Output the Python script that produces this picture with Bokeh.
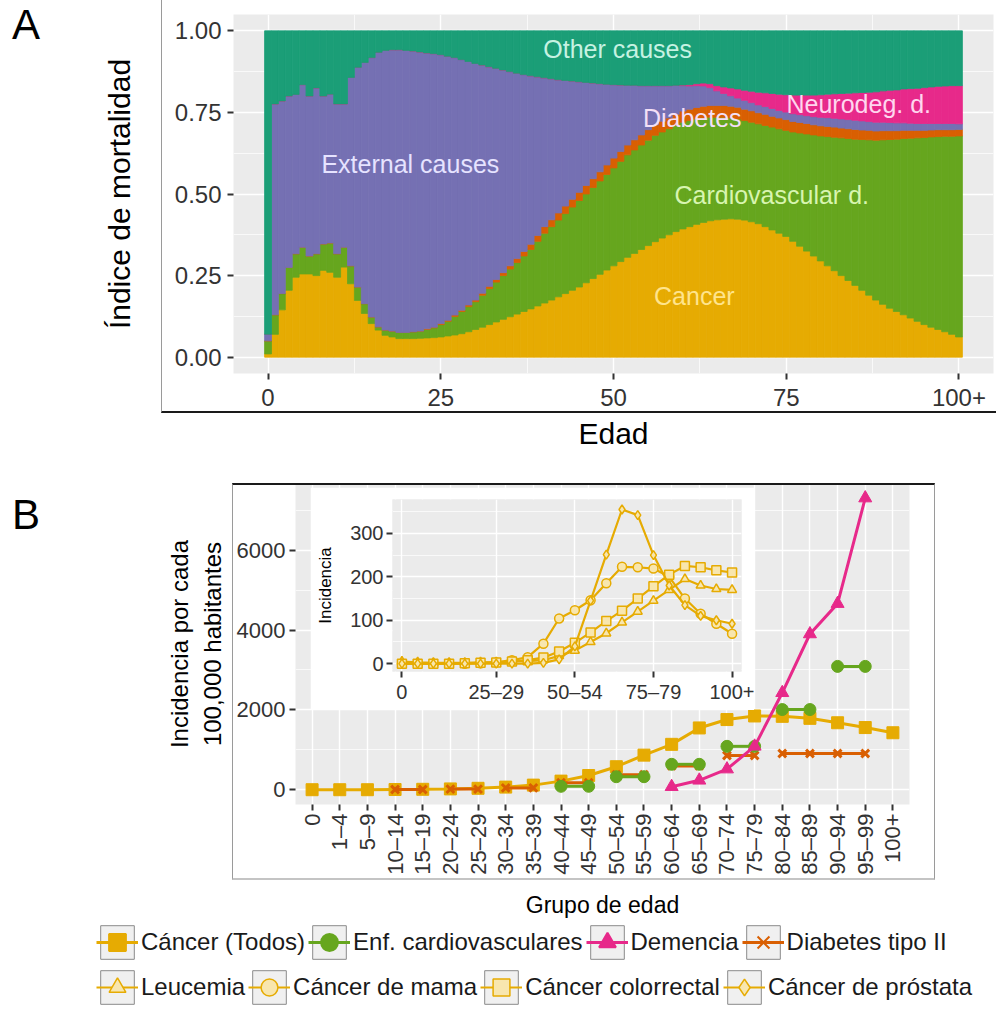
from math import pi
from bokeh.plotting import figure
from bokeh.models import (ColumnDataSource, Range1d, FixedTicker, NumeralTickFormatter,
                          Label, Legend, LegendItem, Column, Div)
from bokeh.embed import file_html
from bokeh.resources import INLINE

FONT = "Liberation Sans"

# ---------------- Panel A data (share of deaths by cause, age 0..100+) ----------------
ages = list(range(101))
cancer = [0.01, 0.07, 0.145, 0.205, 0.245, 0.255, 0.255, 0.25, 0.266, 0.26,
          0.245, 0.276, 0.225, 0.174, 0.134, 0.103, 0.083, 0.067, 0.062, 0.057,
          0.057, 0.057, 0.058, 0.059, 0.06, 0.062, 0.065, 0.068, 0.072, 0.078,
          0.085, 0.092, 0.10, 0.108, 0.116, 0.124, 0.132, 0.14, 0.148, 0.157,
          0.166, 0.175, 0.185, 0.195, 0.205, 0.215, 0.228, 0.241, 0.254, 0.267,
          0.28, 0.293, 0.306, 0.318, 0.33, 0.342, 0.354, 0.365, 0.375, 0.385,
          0.393, 0.40, 0.407, 0.413, 0.418, 0.421, 0.423, 0.424, 0.423, 0.42,
          0.415, 0.409, 0.40, 0.39, 0.38, 0.37, 0.355, 0.34, 0.325, 0.31,
          0.295, 0.28, 0.265, 0.25, 0.235, 0.22, 0.205, 0.19, 0.175, 0.162,
          0.15, 0.14, 0.13, 0.12, 0.11, 0.10, 0.092, 0.085, 0.078, 0.07,
          0.062]
cardiovascular = [0.04, 0.06, 0.05, 0.07, 0.072, 0.082, 0.055, 0.067, 0.081, 0.09,
                  0.072, 0.061, 0.055, 0.041, 0.03, 0.02, 0.01, 0.016, 0.018, 0.019,
                  0.019, 0.021, 0.022, 0.026, 0.03, 0.038, 0.045, 0.057, 0.068, 0.077,
                  0.085, 0.098, 0.11, 0.122, 0.134, 0.146, 0.158, 0.17, 0.182, 0.198,
                  0.214, 0.225, 0.235, 0.245, 0.255, 0.265, 0.272, 0.279, 0.286, 0.293,
                  0.30, 0.307, 0.314, 0.317, 0.32, 0.323, 0.326, 0.325, 0.325, 0.325,
                  0.327, 0.325, 0.323, 0.32, 0.317, 0.314, 0.312, 0.309, 0.307, 0.305,
                  0.305, 0.306, 0.31, 0.315, 0.32, 0.325, 0.335, 0.347, 0.359, 0.371,
                  0.383, 0.396, 0.409, 0.422, 0.435, 0.448, 0.462, 0.476, 0.49, 0.504,
                  0.517, 0.528, 0.54, 0.551, 0.562, 0.573, 0.583, 0.591, 0.599, 0.607,
                  0.616]
diabetes = [0, 0, 0, 0, 0, 0, 0, 0, 0, 0,
            0, 0, 0, 0, 0, 0, 0, 0, 0, 0,
            0, 0, 0, 0.002, 0.002, 0.003, 0.003, 0.004, 0.004, 0.005,
            0.005, 0.006, 0.007, 0.008, 0.009, 0.01, 0.012, 0.014, 0.016, 0.018,
            0.02, 0.021, 0.022, 0.023, 0.024, 0.025, 0.026, 0.027, 0.028, 0.029,
            0.03, 0.03, 0.03, 0.031, 0.031, 0.032, 0.032, 0.033, 0.033, 0.034,
            0.034, 0.035, 0.035, 0.036, 0.036, 0.036, 0.036, 0.036, 0.036, 0.035,
            0.035, 0.034, 0.034, 0.033, 0.033, 0.033, 0.032, 0.032, 0.032, 0.031,
            0.031, 0.031, 0.031, 0.03, 0.03, 0.03, 0.029, 0.029, 0.028, 0.028,
            0.027, 0.026, 0.025, 0.024, 0.023, 0.022, 0.021, 0.021, 0.02, 0.02,
            0.02]
external = [0.02, 0.646, 0.59, 0.525, 0.488, 0.498, 0.49, 0.508, 0.453, 0.456,
            0.459, 0.439, 0.577, 0.673, 0.739, 0.795, 0.841, 0.857, 0.862, 0.866,
            0.864, 0.86, 0.855, 0.845, 0.838, 0.824, 0.809, 0.789, 0.768, 0.746,
            0.725, 0.699, 0.673, 0.647, 0.621, 0.595, 0.568, 0.542, 0.516, 0.486,
            0.456, 0.432, 0.408, 0.385, 0.362, 0.339, 0.316, 0.293, 0.27, 0.247,
            0.225, 0.204, 0.183, 0.167, 0.151, 0.135, 0.12, 0.109, 0.099, 0.089,
            0.078, 0.071, 0.067, 0.062, 0.055, 0.045, 0.037, 0.032, 0.028, 0.027,
            0.025, 0.024, 0.024, 0.024, 0.023, 0.023, 0.024, 0.024, 0.024, 0.025,
            0.026, 0.027, 0.027, 0.028, 0.028, 0.028, 0.028, 0.027, 0.027, 0.026,
            0.025, 0.024, 0.023, 0.022, 0.021, 0.021, 0.02, 0.019, 0.019, 0.019,
            0.017]
neurodeg = [0, 0, 0, 0, 0, 0, 0, 0, 0, 0,
            0, 0, 0, 0, 0, 0, 0, 0, 0, 0,
            0, 0, 0, 0, 0, 0, 0, 0, 0, 0,
            0, 0, 0, 0, 0, 0, 0, 0, 0, 0,
            0, 0, 0, 0, 0, 0, 0, 0, 0, 0,
            0, 0, 0, 0, 0, 0, 0, 0, 0, 0,
            0.002, 0.004, 0.006, 0.009, 0.012, 0.016, 0.02, 0.024, 0.028, 0.031,
            0.035, 0.039, 0.042, 0.046, 0.05, 0.053, 0.057, 0.06, 0.063, 0.066,
            0.069, 0.072, 0.075, 0.078, 0.081, 0.084, 0.087, 0.09, 0.093, 0.096,
            0.099, 0.101, 0.104, 0.106, 0.108, 0.11, 0.112, 0.114, 0.115, 0.116,
            0.117]
other = [0.93, 0.224, 0.215, 0.20, 0.195, 0.165, 0.20, 0.175, 0.20, 0.194,
         0.224, 0.224, 0.143, 0.112, 0.097, 0.082, 0.066, 0.06, 0.058, 0.058,
         0.06, 0.062, 0.065, 0.068, 0.07, 0.073, 0.078, 0.082, 0.088, 0.094,
         0.10, 0.105, 0.11, 0.115, 0.12, 0.125, 0.13, 0.134, 0.138, 0.141,
         0.144, 0.147, 0.15, 0.152, 0.154, 0.156, 0.158, 0.16, 0.162, 0.164,
         0.165, 0.166, 0.167, 0.167, 0.168, 0.168, 0.168, 0.168, 0.168, 0.167,
         0.166, 0.165, 0.162, 0.16, 0.162, 0.168, 0.172, 0.175, 0.178, 0.182,
         0.185, 0.188, 0.19, 0.192, 0.194, 0.196, 0.197, 0.197, 0.197, 0.197,
         0.196, 0.194, 0.193, 0.192, 0.191, 0.19, 0.189, 0.188, 0.187, 0.184,
         0.182, 0.181, 0.178, 0.177, 0.176, 0.174, 0.172, 0.17, 0.169, 0.168,
         0.168]
causes_a = ["cancer", "cardiovascular", "diabetes", "external", "neurodeg", "other"]
colors_a = ["#E6AB02", "#66A61E", "#D95F02", "#7570B3", "#E7298A", "#1B9E77"]
age_ticks = [0, 25, 50, 75, 100]
age_tick_labels = ["0", "25", "50", "75", "100+"]
share_ticks = [0, 0.25, 0.5, 0.75, 1.0]
# in-area labels: text, age, share, colour
labels_a = [("Other causes", 50.6, 0.945, "#C6F2E2"),
            ("External causes", 20.6, 0.593, "#E6E3FF"),
            ("Diabetes", 61.4, 0.734, "#F3DFF6"),
            ("Neurodeg. d.", 85.5, 0.777, "#FFD6EF"),
            ("Cardiovascular d.", 72.9, 0.497, "#D8F5B0"),
            ("Cancer", 61.7, 0.187, "#FFE48C")]

# ---------------- Panel B data (incidence per 100,000) ----------------
age_groups = ["0", "1–4", "5–9", "10–14", "15–19", "20–24", "25–29", "30–34", "35–39",
              "40–44", "45–49", "50–54", "55–59", "60–64", "65–69", "70–74", "75–79",
              "80–84", "85–89", "90–94", "95–99", "100+"]
cancer_all = [5, 5, 5, 10, 15, 25, 40, 70, 120, 220, 360, 580, 870, 1140, 1550, 1760,
              1850, 1840, 1790, 1680, 1560, 1430]
cardio_groups = [["40–44", "45–49"], ["50–54", "55–59"], ["60–64", "65–69"],
                 ["70–74", "75–79"], ["80–84", "85–89"], ["90–94", "95–99"]]
cardio_vals = [90, 330, 640, 1090, 2010, 3090]
dementia_groups = ["60–64", "65–69", "70–74", "75–79", "80–84", "85–89", "90–94", "95–99"]
dementia_vals = [80, 240, 520, 1090, 2430, 3900, 4660, 7300]
diabetes_groups = [["10–14", "15–19"], ["20–24", "25–29"], ["30–34", "35–39"],
                   ["40–44", "45–49"], ["50–54", "55–59"], ["60–64", "65–69"],
                   ["70–74", "75–79"], ["80–84", "85–89", "90–94", "95–99"]]
diabetes_vals = [10, 20, 50, 180, 380, 600, 860, 910]
leukemia = [5, 3, 2, 2, 2, 3, 3, 5, 6, 8, 18, 30, 50, 70, 95, 120, 145, 170, 195, 180, 172, 170]
breast = [0, 0, 0, 0, 0, 1, 3, 8, 15, 46, 104, 123, 146, 185, 223, 222, 219, 200, 150, 115, 92, 69]
colorectal = [0, 0, 0, 0, 1, 2, 3, 5, 8, 14, 28, 48, 72, 98, 122, 150, 178, 205, 225, 222, 215, 210]
prostate = [0, 0, 0, 0, 0, 0, 0, 0, 0, 2, 10, 40, 145, 251, 355, 342, 250, 180, 135, 110, 100, 92]
incid_ticks = [0, 2000, 4000, 6000]
incid_minor = [1000, 3000, 5000, 7000]
inset_ticks = [0, 100, 200, 300]
inset_minor = [50, 150, 250, 350]
inset_breaks = ["0", "25–29", "50–54", "75–79", "100+"]

C_CANCER, C_CARDIO, C_DEM, C_DIAB = "#E6AB02", "#66A61E", "#E7298A", "#D95F02"
SUB_FILL = "#F8E6AE"


def theme(p):
    p.background_fill_color = "#EBEBEB"
    p.border_fill_color = "white"
    p.outline_line_color = None
    for g in (p.xgrid, p.ygrid):
        g.grid_line_color = "white"
        g.grid_line_width = 1.4
        g.minor_grid_line_color = "white"
        g.minor_grid_line_width = 0.7


def style_axis(ax, size, title_size, standoff, label_standoff=5):
    ax.axis_line_color = None
    ax.major_tick_line_color = "#333333"
    ax.major_tick_line_width = 2
    ax.major_tick_out = 6
    ax.major_tick_in = 0
    ax.minor_tick_line_color = None
    ax.major_label_text_font = FONT
    ax.major_label_text_font_size = size
    ax.major_label_text_color = "#333333"
    ax.major_label_standoff = label_standoff
    ax.axis_label_text_font = FONT
    ax.axis_label_text_font_size = title_size
    ax.axis_label_text_font_style = "normal"
    ax.axis_label_text_color = "black"
    ax.axis_label_standoff = standoff


# ---------------- Panel A ----------------
pA = figure(width=996, height=470, x_range=Range1d(-5, 105), y_range=Range1d(-0.05, 1.05),
            output_backend="svg", toolbar_location=None, frame_align=False,
            min_border_left=233, min_border_right=3, min_border_top=14, min_border_bottom=97)
theme(pA)
srcA = ColumnDataSource(dict(age=ages, cancer=cancer, cardiovascular=cardiovascular,
                             diabetes=diabetes, external=external, neurodeg=neurodeg, other=other))
pA.vbar_stack(causes_a, x="age", width=1.0, color=colors_a, line_width=0.8, source=srcA)

xtA = FixedTicker(ticks=age_ticks, minor_ticks=[12.5, 37.5, 62.5, 87.5])
ytA = FixedTicker(ticks=share_ticks, minor_ticks=[0.125, 0.375, 0.625, 0.875])
pA.xaxis.ticker = xtA
pA.xgrid.ticker = xtA
pA.yaxis.ticker = ytA
pA.ygrid.ticker = ytA
pA.xaxis.major_label_overrides = {t: l for t, l in zip(age_ticks, age_tick_labels)}
pA.yaxis.formatter = NumeralTickFormatter(format="0.00")
pA.xaxis.axis_label = "Edad"
pA.yaxis.axis_label = "Índice de mortalidad"
style_axis(pA.xaxis[0], "24px", "30px", 8, 9)
style_axis(pA.yaxis[0], "24px", "30px", 36, 6)

for txt, x, y, c in labels_a:
    pA.add_layout(Label(x=x, y=y, text=txt, text_align="center", text_baseline="middle",
                        text_color=c, text_font=FONT, text_font_size="25px"))

# ---------------- Panel B (main) ----------------
pos = {g: i for i, g in enumerate(age_groups)}
xs_all = [pos[g] for g in age_groups]

pB = figure(width=996, height=450, x_range=Range1d(-0.6, 21.6), y_range=Range1d(-365, 7665),
            output_backend="svg", toolbar_location=None, frame_align=False,
            min_border_left=295, min_border_right=87, min_border_top=13, min_border_bottom=115)
theme(pB)
xtB = FixedTicker(ticks=xs_all)
ytB = FixedTicker(ticks=incid_ticks, minor_ticks=incid_minor)
pB.xaxis.ticker = xtB
pB.xgrid.ticker = xtB
pB.yaxis.ticker = ytB
pB.ygrid.ticker = ytB
pB.xaxis.major_label_overrides = {i: g for i, g in enumerate(age_groups)}
pB.xaxis.major_label_orientation = pi / 2
pB.xaxis.axis_label = "Grupo de edad"
pB.yaxis.axis_label = "Incidencia por cada\n100,000 habitantes"
style_axis(pB.xaxis[0], "22px", "23px", 14, 3)
style_axis(pB.yaxis[0], "22px", "24px", 8, 4)

pB.line(xs_all, cancer_all, line_color=C_CANCER, line_width=3)
pB.scatter(xs_all, cancer_all, marker="square", size=12, color=C_CANCER)

diab_xs = [[pos[g] for g in grp] for grp in diabetes_groups]
diab_ys = [[v] * len(grp) for grp, v in zip(diabetes_groups, diabetes_vals)]
pB.multi_line(diab_xs, diab_ys, line_color=C_DIAB, line_width=3)
pB.scatter([x for xs in diab_xs for x in xs], [y for ys in diab_ys for y in ys],
           marker="x", size=11, line_color=C_DIAB, line_width=3)

card_xs = [[pos[g] for g in grp] for grp in cardio_groups]
card_ys = [[v] * len(grp) for grp, v in zip(cardio_groups, cardio_vals)]
pB.multi_line(card_xs, card_ys, line_color=C_CARDIO, line_width=3)
pB.scatter([x for xs in card_xs for x in xs], [y for ys in card_ys for y in ys],
           marker="circle", size=12, color=C_CARDIO)

dem_x = [pos[g] for g in dementia_groups]
pB.line(dem_x, dementia_vals, line_color=C_DEM, line_width=3)
pB.scatter(dem_x, dementia_vals, marker="triangle", size=13, color=C_DEM)

# ---------------- Panel B inset ----------------
sub_series = [("Leucemia", leukemia, "triangle"),
              ("Cáncer de mama", breast, "circle"),
              ("Cáncer colorrectal", colorectal, "square"),
              ("Cáncer de próstata", prostate, "diamond")]

pIn = figure(width=444, height=223, x_range=Range1d(-0.6, 21.6), y_range=Range1d(-18, 378),
             output_backend="svg", toolbar_location=None, frame_align=False,
             min_border_left=82, min_border_right=13, min_border_top=12, min_border_bottom=39)
theme(pIn)
xtI = FixedTicker(ticks=[pos[g] for g in inset_breaks])
ytI = FixedTicker(ticks=inset_ticks, minor_ticks=inset_minor)
pIn.xaxis.ticker = xtI
pIn.xgrid.ticker = xtI
pIn.yaxis.ticker = ytI
pIn.ygrid.ticker = ytI
pIn.xaxis.major_label_overrides = {pos[g]: g for g in inset_breaks}
pIn.yaxis.axis_label = "Incidencia"
style_axis(pIn.xaxis[0], "20px", "17px", 5, 3)
style_axis(pIn.yaxis[0], "20px", "17px", 12, 3)
for name, vals, mk in sub_series:
    pIn.line(xs_all, vals, line_color=C_CANCER, line_width=2.2)
    pIn.scatter(xs_all, vals, marker=mk, size=9, line_color=C_CANCER,
                fill_color=SUB_FILL, line_width=1.5)

# ---------------- Legend (own canvas; key renderers sit outside its visible range) ----------------
pL = figure(width=900, height=89, x_range=Range1d(0, 1), y_range=Range1d(0, 1),
            x_axis_type=None, y_axis_type=None, output_backend="svg", toolbar_location=None,
            frame_align=False, min_border=0)
pL.outline_line_color = None
pL.background_fill_color = "white"
pL.border_fill_color = "white"
OFF = [-5]
key_bg = pL.quad(left=[-6], right=OFF, top=OFF, bottom=[-6], fill_color="#F0F0F0",
                 line_color="#8A8A8A", line_width=1)


def key(color, marker, size, filled=True, lw=3):
    rl = pL.line([-6, -5], [-5, -5], line_color=color, line_width=lw)
    if filled:
        rs = pL.scatter(OFF, OFF, marker=marker, size=size, color=color, line_width=2)
    else:
        rs = pL.scatter(OFF, OFF, marker=marker, size=size, line_color=color,
                        fill_color=SUB_FILL, line_width=1.5)
    return [key_bg, rl, rs]


items1 = [LegendItem(label="Cáncer (Todos)", renderers=key(C_CANCER, "square", 12)),
          LegendItem(label="Enf. cardiovasculares", renderers=key(C_CARDIO, "circle", 12)),
          LegendItem(label="Demencia", renderers=key(C_DEM, "triangle", 13)),
          LegendItem(label="Diabetes tipo II", renderers=key(C_DIAB, "x", 11))]
items2 = [LegendItem(label=name, renderers=key(C_CANCER, mk, 10, filled=False, lw=2.2))
          for name, _, mk in sub_series]


def make_legend(items, loc):
    return Legend(items=items, orientation="horizontal", location=loc,
                  glyph_width=42, glyph_height=42, label_standoff=3, spacing=3,
                  padding=0, margin=0, border_line_color=None, background_fill_alpha=0,
                  label_text_font=FONT, label_text_font_size="24px",
                  label_text_color="#1a1a1a")


pL.add_layout(make_legend(items1, (6, 46)))
pL.add_layout(make_legend(items2, (6, 1)))

# ---------------- frames and panel letters ----------------
boxA = Div(text="", width=835, height=413,
           styles={"border-left": "1px solid #9a9a9a", "border-bottom": "2px solid #1a1a1a",
                   "box-sizing": "border-box"})
boxB = Div(text="", width=703, height=397,
           styles={"border-top": "2px solid #1a1a1a", "border-left": "1px solid #9a9a9a",
                   "border-right": "1px solid #9a9a9a", "border-bottom": "2px solid #c4c4c4",
                   "box-sizing": "border-box"})
letter_style = {"font-size": "42px", "font-family": FONT, "line-height": "1", "color": "black"}
divA = Div(text="A", width=50, height=50, styles=letter_style)
divB = Div(text="B", width=50, height=50, styles=letter_style)

# vertical flow: pA 0-470, pB 470-920, legend 920-1009, then overlays via negative margins
pB.margin = (0, 0, 0, 0)
pL.margin = (0, 0, 0, 90)
pIn.margin = (487 - 1009, 0, 0, 310)      # inset top at 487
boxA.margin = (0 - 710, 0, 0, 161)        # after inset, flow at 710
boxB.margin = (483 - 413, 0, 0, 232)      # after boxA, flow at 413
divA.margin = (4 - 880, 0, 0, 12)         # after boxB, flow at 880
divB.margin = (494 - 54, 0, 0, 12)        # after divA, flow at 54

layout = Column(children=[pA, pB, pL, pIn, boxA, boxB, divA, divB], spacing=0)

open("out.html", "w").write(file_html(layout, INLINE, title="Mortalidad e incidencia"))
